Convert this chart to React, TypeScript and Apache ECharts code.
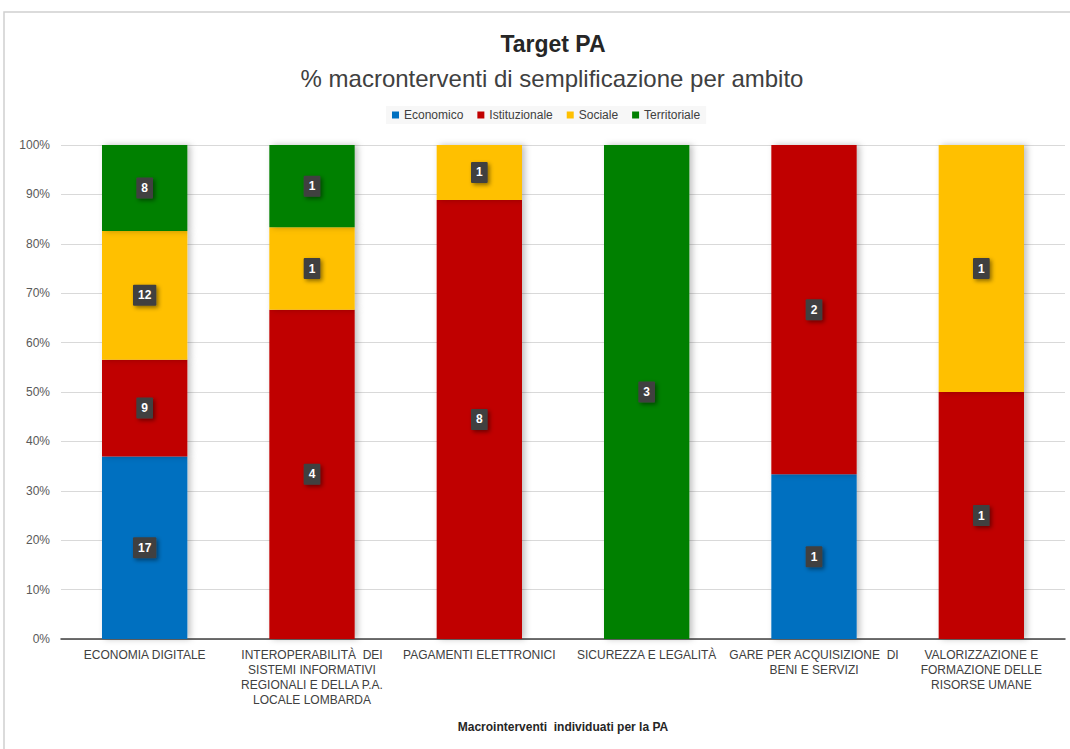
import React, { useEffect, useRef } from "react";
import * as echarts from "echarts";

const categories = [
  "ECONOMIA DIGITALE",
  "INTEROPERABILITÀ  DEI\nSISTEMI INFORMATIVI\nREGIONALI E DELLA P.A.\nLOCALE LOMBARDA",
  "PAGAMENTI ELETTRONICI",
  "SICUREZZA E LEGALITÀ",
  "GARE PER ACQUISIZIONE  DI\nBENI E SERVIZI",
  "VALORIZZAZIONE E\nFORMAZIONE DELLE\nRISORSE UMANE",
];

const seriesNames = ["Economico", "Istituzionale", "Sociale", "Territoriale"];
const economico = [17, 0, 0, 0, 1, 0];
const istituzionale = [9, 4, 8, 0, 2, 1];
const sociale = [12, 1, 1, 0, 0, 1];
const territoriale = [8, 1, 0, 3, 0, 0];
const colors = ["#0070C0", "#C00000", "#FFC000", "#008000"];

const FONT = "'Liberation Sans', Arial, sans-serif";

export default function App() {
  const ref = useRef<HTMLDivElement>(null);
  useEffect(() => {
    document.body.style.margin = "0";
    const chart = echarts.init(ref.current!, null, { renderer: "svg" });
    const all = [economico, istituzionale, sociale, territoriale];
    const totals = categories.map((_, i) => all.reduce((s, a) => s + a[i], 0));
    const series = all.map((arr, si) => ({
      name: seriesNames[si],
      type: "bar",
      stack: "total",
      barWidth: "51%",
      itemStyle: {
        color: colors[si],
        shadowBlur: 6,
        shadowOffsetX: 3,
        shadowColor: "rgba(0,0,0,0.25)",
      },
      label: {
        show: true,
        position: "inside",
        color: "#ffffff",
        fontWeight: "bold",
        fontSize: 12,
        fontFamily: FONT,
        backgroundColor: "#404040",
        padding: [5, 5, 4, 5],
        borderRadius: 1,
        shadowBlur: 4,
        shadowOffsetX: 2,
        shadowOffsetY: 2,
        shadowColor: "rgba(0,0,0,0.45)",
        formatter: (p: any) => String(p.data.count),
      },
      data: arr.map((v, i) => ({
        value: (v / totals[i]) * 100,
        count: v,
        label: { show: v > 0 },
      })),
    }));

    chart.setOption({
      animation: false,
      textStyle: { fontFamily: FONT },
      graphic: [
        {
          type: "rect",
          shape: { x: 4, y: 12, width: 1080, height: 760 },
          style: { fill: "none", stroke: "#d0d0d0", lineWidth: 1.5 },
          silent: true,
        },
      ],
      title: [
        {
          text: "Target PA",
          left: 548,
          textAlign: "center",
          top: 27,
          textStyle: { fontSize: 23, fontWeight: "bold", color: "#262626", fontFamily: FONT },
        },
        {
          text: "% macronterventi di semplificazione per ambito",
          left: 547,
          textAlign: "center",
          top: 61,
          textStyle: { fontSize: 24, fontWeight: "normal", color: "#404040", fontFamily: FONT },
        },
      ],
      legend: {
        data: seriesNames,
        left: 386,
        top: 106,
        itemWidth: 7,
        itemHeight: 7,
        itemGap: 14,
        icon: "rect",
        backgroundColor: "rgba(240,240,240,0.5)",
        padding: [3, 6],
        textStyle: { fontSize: 12, color: "#404040", fontFamily: FONT },
      },
      grid: { left: 61, right: 5, top: 145, bottom: 110, containLabel: false },
      xAxis: {
        type: "category",
        data: categories,
        name: "Macrointerventi  individuati per la PA",
        nameLocation: "middle",
        nameGap: 82,
        nameTextStyle: { fontSize: 12, fontWeight: "bold", color: "#262626", fontFamily: FONT },
        axisLine: { lineStyle: { color: "#404040", width: 1.5 } },
        axisTick: { show: false },
        axisLabel: {
          interval: 0,
          fontSize: 12,
          color: "#404040",
          lineHeight: 15,
          margin: 8,
          fontFamily: FONT,
        },
      },
      yAxis: {
        type: "value",
        min: 0,
        max: 100,
        interval: 10,
        axisLabel: {
          formatter: "{value}%",
          fontSize: 12,
          color: "#595959",
          margin: 11,
          fontFamily: FONT,
        },
        axisLine: { show: false },
        axisTick: { show: false },
        splitLine: { lineStyle: { color: "#d9d9d9" } },
      },
      series,
    });
    return () => chart.dispose();
  }, []);
  return <div ref={ref} style={{ width: 1070, height: 749 }} />;
}
